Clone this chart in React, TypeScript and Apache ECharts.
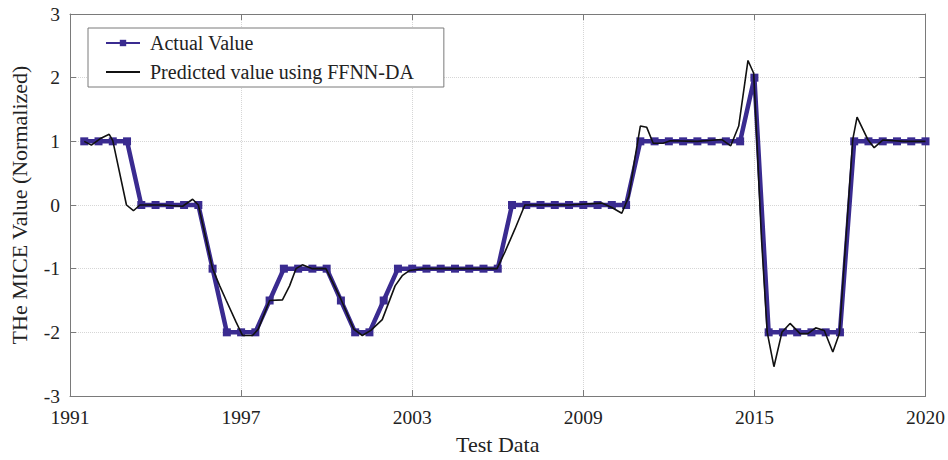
import React, { useEffect, useRef } from "react";
import * as echarts from "echarts";

// Tick labels shown under every 12th sample (half-yearly samples, 0..60)
const yearTicks = ["1991", "1997", "2003", "2009", "2015", "2020"];

// Actual (normalized) values, one per sample k = 1..60
const actualValue = [
  1, 1, 1, 1,
  0, 0, 0, 0, 0,
  -1,
  -2, -2, -2,
  -1.5,
  -1, -1, -1, -1,
  -1.5,
  -2, -2,
  -1.5,
  -1, -1, -1, -1, -1, -1, -1, -1,
  0, 0, 0, 0, 0, 0, 0, 0, 0,
  1, 1, 1, 1, 1, 1, 1, 1,
  2,
  -2, -2, -2, -2, -2, -2,
  1, 1, 1, 1, 1, 1,
];

// Predicted curve (FFNN-DA), sample position and value
const predictedX = [
  1, 1.5, 2.1, 2.75, 3.0, 3.96, 4.45, 4.9, 5.5, 6.5,
  7.9, 8.6, 9.0, 10.0, 10.5, 10.96, 11.65, 12.1, 12.8, 13.2,
  14.0, 14.9, 15.4, 15.85, 16.3, 17.0, 17.95, 19.0, 19.9, 20.5,
  21.1, 21.9, 22.8, 23.3, 23.8, 24.7, 27, 29.95, 30.5, 31.2,
  31.9, 33, 35, 37.3, 38.0, 38.7, 39.2, 39.6, 40.0, 40.45,
  40.9, 41.6, 42.1, 44, 45.7, 46.34, 46.9, 47.55, 47.95, 48.5,
  48.9, 49.37, 49.93, 50.5, 51.2, 51.75, 52.3, 52.9, 53.5, 53.96,
  54.4, 54.9, 55.2, 55.95, 56.4, 57, 58.5, 60,
];
const predictedY = [
  1.0, 0.94, 1.04, 1.11, 1.01, 0.0, -0.09, 0.0, 0.0, 0.0,
  -0.02, 0.09, 0.0, -1.0, -1.27, -1.5, -1.84, -2.05, -2.05, -1.95,
  -1.5, -1.49, -1.27, -1.0, -0.94, -1.0, -1.0, -1.48, -1.95, -2.05,
  -1.97, -1.8, -1.27, -1.11, -1.03, -1.0, -1.0, -1.0, -0.74, -0.38,
  0.0, 0.0, 0.0, 0.03, -0.04, -0.13, 0.14, 0.71, 1.24, 1.22,
  0.97, 0.97, 1.01, 1.0, 1.03, 0.93, 1.24, 2.27, 2.07, -0.54,
  -2.0, -2.54, -2.0, -1.86, -2.02, -2.02, -1.93, -1.97, -2.31, -2.02,
  -0.59, 1.03, 1.38, 1.03, 0.9, 1.02, 1.0, 1.0,
];

const FONT = "'Liberation Serif', 'DejaVu Serif', serif";
const AXIS_GRAY = "#7a7a7a";
const TEXT = "#222";
const ACTUAL_COLOR = "#3a2b90";
const GRID_LINE = { type: "dotted", color: "#d6d6d6", width: 1 };

export default function App() {
  const ref = useRef<HTMLDivElement>(null);

  useEffect(() => {
    if (!ref.current) return;
    const chart = echarts.init(ref.current, null, { renderer: "svg" });

    const actualData = actualValue.map((v, i) => [i + 1, v]);
    const predictedData = predictedX.map((x, i) => [x, predictedY[i]]);

    const frameLine = { show: true, onZero: false, lineStyle: { color: AXIS_GRAY, width: 1 } };
    const frameTick = { show: true, inside: true, length: 6, lineStyle: { color: AXIS_GRAY } };

    chart.setOption({
      animation: false,
      backgroundColor: "#fff",
      textStyle: { fontFamily: FONT },
      grid: { left: 70, right: 20, top: 14, bottom: 64, containLabel: false },
      legend: {
        orient: "vertical",
        left: 88,
        top: 28,
        backgroundColor: "#fff",
        borderColor: AXIS_GRAY,
        borderWidth: 1,
        padding: [5, 30, 5, 17],
        itemWidth: 34,
        itemHeight: 8,
        itemGap: 9,
        textStyle: {
          fontFamily: FONT,
          fontSize: 20,
          lineHeight: 20,
          color: TEXT,
          padding: [0, 0, 0, 5],
        },
        data: [
          { name: "Actual Value", lineStyle: { width: 2 } },
          {
            name: "Predicted value using FFNN-DA",
            lineStyle: { width: 2 },
            itemStyle: { color: "rgba(0,0,0,0)", borderWidth: 0 },
          },
        ],
      },
      xAxis: [
        {
          type: "value",
          min: 0,
          max: 60,
          interval: 12,
          name: "Test Data",
          nameLocation: "middle",
          nameGap: 37,
          nameTextStyle: { fontFamily: FONT, fontSize: 22, color: TEXT },
          axisLine: frameLine,
          axisTick: frameTick,
          axisLabel: {
            margin: 11,
            fontFamily: FONT,
            fontSize: 19.5,
            color: TEXT,
            formatter: (v: number) => yearTicks[Math.round(v / 12)] ?? "",
          },
          splitLine: { show: true, lineStyle: GRID_LINE },
        },
        {
          type: "value",
          min: 0,
          max: 60,
          interval: 12,
          position: "top",
          axisLine: frameLine,
          axisTick: frameTick,
          axisLabel: { show: false },
          splitLine: { show: false },
        },
      ],
      yAxis: [
        {
          type: "value",
          min: -3,
          max: 3,
          interval: 1,
          name: "THe MICE Value (Normalized)",
          nameLocation: "middle",
          nameGap: 40,
          nameRotate: 90,
          nameTextStyle: { fontFamily: FONT, fontSize: 22, color: TEXT },
          axisLine: frameLine,
          axisTick: frameTick,
          axisLabel: { margin: 10, fontFamily: FONT, fontSize: 19.5, color: TEXT },
          splitLine: { show: true, lineStyle: GRID_LINE },
        },
        {
          type: "value",
          min: -3,
          max: 3,
          interval: 1,
          position: "right",
          axisLine: frameLine,
          axisTick: frameTick,
          axisLabel: { show: false },
          splitLine: { show: false },
        },
      ],
      series: [
        {
          name: "Actual Value",
          type: "line",
          data: actualData,
          xAxisIndex: 0,
          yAxisIndex: 0,
          symbol: "rect",
          symbolSize: 8,
          color: ACTUAL_COLOR,
          lineStyle: { color: ACTUAL_COLOR, width: 4.5 },
          itemStyle: { color: ACTUAL_COLOR },
          z: 2,
        },
        {
          name: "Predicted value using FFNN-DA",
          type: "line",
          data: predictedData,
          xAxisIndex: 0,
          yAxisIndex: 0,
          symbol: "none",
          color: "#111",
          lineStyle: { color: "#111", width: 1.6 },
          z: 3,
        },
      ],
    });

    return () => chart.dispose();
  }, []);

  return (
    <div
      ref={ref}
      style={{ position: "fixed", left: 0, top: 0, width: 948, height: 460, background: "#fff" }}
    />
  );
}
